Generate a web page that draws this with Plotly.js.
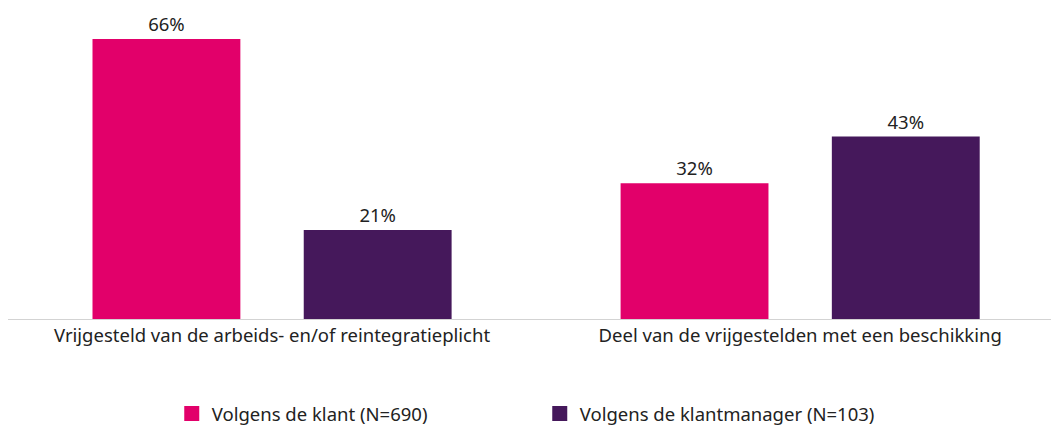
<!DOCTYPE html>
<html>
<head>
<meta charset="utf-8">
<script src="https://cdn.plot.ly/plotly-3.0.1.min.js"></script>
<style>
  body { margin: 0; background: #fff; }
  #plot { width: 1051px; height: 425px; }
</style>
</head>
<body>
<div id="plot"></div>
<script>
var categories = ['Vrijgesteld van de arbeids- en/of reintegratieplicht', 'Deel van de vrijgestelden met een beschikking'];
var klantValues = [66, 32];
var managerValues = [21, 43];
var seriesNames = ['Volgens de klant (N=690)', 'Volgens de klantmanager (N=103)'];

var pink = '#e2006a';
var purple = '#45185b';

function pct(arr) {
    return arr.map(function (v) { return v + '%'; });
}

function barTrace(values, color) {
    return {
        x: categories,
        y: values,
        type: 'bar',
        marker: { color: color },
        text: pct(values),
        textposition: 'outside',
        textfont: { size: 18.5, color: '#222' },
        cliponaxis: false,
        showlegend: false,
        hoverinfo: 'none'
    };
}

// legend-only entries so the swatch can be a bigger square
function legendTrace(name, color) {
    return {
        x: [null],
        y: [null],
        type: 'scatter',
        mode: 'markers',
        name: name,
        marker: { symbol: 'square', size: 15, color: color },
        hoverinfo: 'none'
    };
}

var data = [
    barTrace(klantValues, pink),
    barTrace(managerValues, purple),
    legendTrace(seriesNames[0], pink),
    legendTrace(seriesNames[1], purple)
];

var layout = {
    width: 1051,
    height: 425,
    margin: { l: 8, r: 0, t: 22, b: 106, autoexpand: false },
    paper_bgcolor: '#fff',
    plot_bgcolor: '#fff',
    font: { family: 'Noto Sans, sans-serif', size: 18.5, color: '#222' },
    barmode: 'group',
    bargap: 0.2,
    bargroupgap: 0.3,
    showlegend: true,
    legend: {
        orientation: 'h',
        x: 0.157,
        xanchor: 'left',
        y: -0.32,
        yanchor: 'middle',
        entrywidth: 323,
        entrywidthmode: 'pixels',
        font: { size: 18.5, color: '#222' }
    },
    xaxis: {
        type: 'category',
        range: [-0.5, 1.475],
        showline: true,
        linecolor: '#d3d3d3',
        linewidth: 1,
        ticks: '',
        tickfont: { size: 18.5, color: '#222' },
        fixedrange: true
    },
    yaxis: {
        range: [0, 70],
        visible: false,
        showgrid: false,
        zeroline: false,
        fixedrange: true
    }
};

Plotly.newPlot('plot', data, layout, { displayModeBar: false, staticPlot: true });
</script>
</body>
</html>
